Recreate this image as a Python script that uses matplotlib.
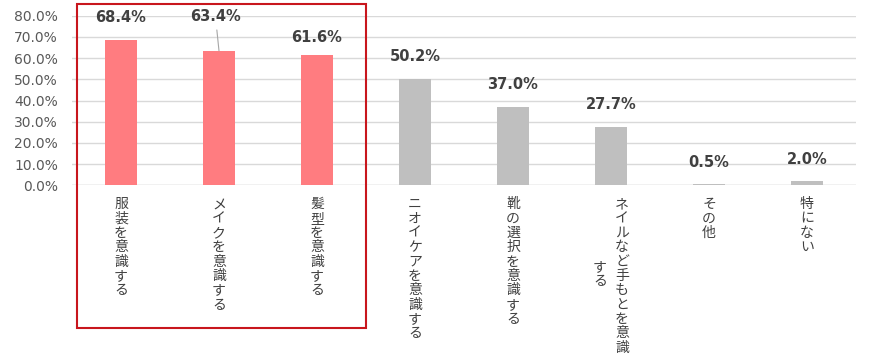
import matplotlib.pyplot as plt
import matplotlib.patches as patches
from matplotlib.ticker import PercentFormatter

plt.rcParams['font.family'] = ['Noto Sans CJK JP', 'DejaVu Sans']

# data
categories = ["服装を意識する", "メイクを意識する", "髪型を意識する", "ニオイケアを意識する",
              "靴の選択を意識する", "ネイルなど手もとを意識する", "その他", "特にない"]
values = [68.4, 63.4, 61.6, 50.2, 37.0, 27.7, 0.5, 2.0]
highlight = [True, True, True, False, False, False, False, False]
yticks = [0, 10, 20, 30, 40, 50, 60, 70, 80]

pink = '#FF7C80'
gray = '#BFBFBF'

fig = plt.figure(figsize=(8.75, 3.59), dpi=100)
ax = fig.add_axes([72 / 875, 1 - 185.3 / 359, 784 / 875, 169.6 / 359])

x = list(range(len(categories)))
colors = [pink if h else gray for h in highlight]
ax.bar(x, values, width=0.32, color=colors, zorder=3)

ax.set_xlim(-0.5, len(categories) - 0.5)
ax.set_ylim(0, 80)
ax.set_yticks(yticks)
ax.yaxis.set_major_formatter(PercentFormatter(xmax=100, decimals=1))
ax.tick_params(axis='y', length=0, pad=10, labelsize=10, labelcolor='#595959')
for t in ax.get_yticklabels():
    t.set_family('DejaVu Sans')
ax.tick_params(axis='x', length=0)
ax.set_xticks([])
ax.grid(axis='y', color='#D9D9D9', linewidth=1, zorder=0)
ax.set_axisbelow(True)
for s in ax.spines.values():
    s.set_visible(False)
ax.axhline(0, color='#D9D9D9', linewidth=1, zorder=1)

# value labels (pixel offsets from bar top)
offsets = {0: (0, 23), 1: (-3.5, 34), 2: (0, 17)}
for i, v in enumerate(values):
    dx, dy = offsets.get(i, (0, 22))
    kw = {}
    if i == 1:
        kw['arrowprops'] = dict(arrowstyle='-', color='#A6A6A6', lw=0.8,
                                shrinkA=2, shrinkB=0)
    ax.annotate(f"{v:.1f}%", xy=(i, v), xytext=(dx, dy),
                textcoords='offset pixels', ha='center', va='center',
                fontsize=10.5, fontweight='bold', color='#404040',
                family='DejaVu Sans', **kw)

# vertical (stacked) category labels
trans = ax.get_xaxis_transform()
lab_kw = dict(xycoords=trans, textcoords='offset pixels', ha='center',
              fontsize=10, color='#404040', linespacing=1.03,
              annotation_clip=False)
for i, lab in enumerate(categories):
    if len(lab) > 11:
        col1, col2 = lab[:11], lab[11:]
        ax.annotate('\n'.join(col1), xy=(i, 0), xytext=(11, -12),
                    va='top', **lab_kw)
        ax.annotate('\n'.join(col2), xy=(i, 0), xytext=(-11, -89),
                    va='center', **lab_kw)
    else:
        ax.annotate('\n'.join(lab), xy=(i, 0), xytext=(0, -12),
                    va='top', **lab_kw)

# red frame around the top three
frame = patches.Rectangle((77 / 875, 1 - 328 / 359), 289 / 875, 324 / 359,
                          transform=fig.transFigure, fill=False,
                          edgecolor='#C8161D', linewidth=1.5, zorder=10)
fig.patches.append(frame)

fig.savefig('out.png', dpi=100)
